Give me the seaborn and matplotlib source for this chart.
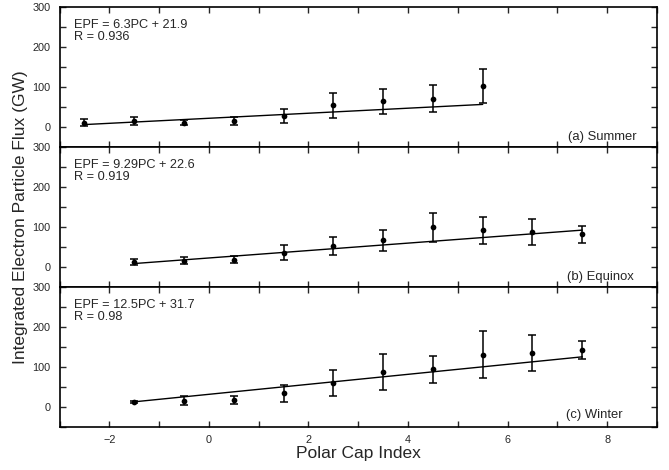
import matplotlib
matplotlib.use("Agg")
import matplotlib.pyplot as plt
import seaborn as sns
import numpy as np
import pandas as pd
from matplotlib.ticker import MultipleLocator

# ---------------- data ----------------
seasons = ["(a) Summer", "(b) Equinox", "(c) Winter"]
equations = ["EPF = 6.3PC + 21.9", "EPF = 9.29PC + 22.6", "EPF = 12.5PC + 31.7"]
r_values = ["R = 0.936", "R = 0.919", "R = 0.98"]
slopes = [6.3, 9.29, 12.5]
intercepts = [21.9, 22.6, 31.7]

summer_pc = [-2.5, -1.5, -0.5, 0.5, 1.5, 2.5, 3.5, 4.5, 5.5]
summer_epf = [11, 15, 11, 16, 27.5, 54, 64, 71, 102.5]
summer_err = [8, 10, 7, 10, 17.5, 31, 31, 33, 42]

equinox_pc = [-1.5, -0.5, 0.5, 1.5, 2.5, 3.5, 4.5, 5.5, 6.5, 7.5]
equinox_epf = [13, 16, 18.5, 36, 52, 67, 99, 92, 87, 82]
equinox_err = [8, 9, 9, 18, 22, 26, 36, 34, 32, 21]

winter_pc = [-1.5, -0.5, 0.5, 1.5, 2.5, 3.5, 4.5, 5.5, 6.5, 7.5]
winter_epf = [13, 16, 18, 34, 59, 87.5, 94, 131, 134, 143]
winter_err = [2, 12, 10, 21, 32.5, 45, 34, 59, 45, 23]

xs = [summer_pc, equinox_pc, winter_pc]
ys = [summer_epf, equinox_epf, winter_epf]
errs = [summer_err, equinox_err, winter_err]

# ---------------- style ----------------
sns.set_style("ticks")
plt.rcParams["font.family"] = ["Liberation Sans", "DejaVu Sans"]
plt.rcParams["axes.linewidth"] = 1.2

fig = plt.figure(figsize=(6.69, 4.70), dpi=100)
axes = fig.subplots(3, 1, sharex=True, gridspec_kw=dict(hspace=0))
fig.subplots_adjust(left=0.089, right=0.982, top=0.985, bottom=0.0915)

label_x = [0.966, 0.961, 0.943]
label_y = [0.05, 0.05, 0.064]

for i, ax in enumerate(axes):
    df = pd.DataFrame({"pc": xs[i], "epf": ys[i], "err": errs[i]})
    ax.errorbar(df["pc"], df["epf"], yerr=df["err"], fmt="none", ecolor="black",
                elinewidth=1.1, capsize=2.9, capthick=1.1, zorder=2)
    x0, x1 = min(xs[i]), max(xs[i])
    fit = pd.DataFrame({"pc": [x0, x1],
                        "epf": [slopes[i] * x0 + intercepts[i], slopes[i] * x1 + intercepts[i]]})
    sns.lineplot(data=fit, x="pc", y="epf", ax=ax, color="black", linewidth=1.0, zorder=3)
    sns.scatterplot(data=df, x="pc", y="epf", ax=ax, color="black", s=17,
                    edgecolor="black", linewidth=0, zorder=4)

    ax.set_xlim(-3, 9)
    ax.set_ylim(-50, 300)
    ax.yaxis.set_major_locator(MultipleLocator(100))
    ax.yaxis.set_minor_locator(MultipleLocator(50))
    ax.xaxis.set_major_locator(MultipleLocator(2))
    ax.xaxis.set_minor_locator(MultipleLocator(1))
    ax.tick_params(which="both", direction="in", top=True, right=True,
                   length=4.2, width=1.0, labelsize=7.8)
    ax.tick_params(axis="y", which="both", pad=6.5)
    ax.tick_params(axis="x", which="both", pad=5.5)
    ax.set_xlabel("")
    ax.set_ylabel("")
    for s in ax.spines.values():
        s.set_linewidth(1.2)
        s.set_color("black")

    ax.text(0.025, 0.85, equations[i], transform=ax.transAxes,
            ha="left", va="baseline", fontsize=9.2)
    ax.text(0.025, 0.765, r_values[i], transform=ax.transAxes,
            ha="left", va="baseline", fontsize=9.2)
    ax.text(label_x[i], label_y[i], seasons[i], transform=ax.transAxes,
            ha="right", va="baseline", fontsize=9.4)

axes[-1].set_xlabel("Polar Cap Index", fontsize=12.5, labelpad=1)
for ax in axes[:-1]:
    ax.tick_params(labelbottom=False)

fig.text(0.031, 0.538, "Integrated Electron Particle Flux (GW)", rotation=90,
         ha="center", va="center", fontsize=12.5)

fig.savefig("out.png", dpi=100)
